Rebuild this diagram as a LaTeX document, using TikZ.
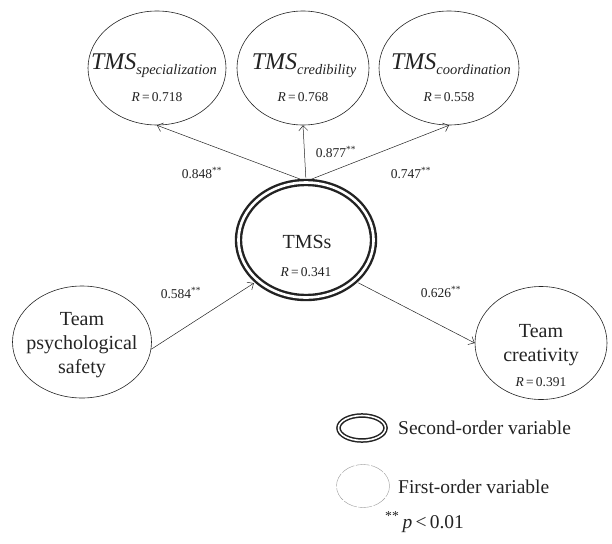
\documentclass[tikz,border=0pt]{standalone}
\usepackage{fontspec}
\setmainfont{Liberation Serif}
\usetikzlibrary{shapes.geometric, arrows.meta}
\definecolor{ink}{RGB}{35, 35, 35}
\newcommand{\coef}[1]{#1\textsuperscript{**}}
\newcommand{\rval}[1]{\textit{R}\,=\,#1}
\newcommand{\TMSsub}[1]{{\fontsize{24}{24}\selectfont\itshape TMS}\raisebox{-5pt}{\fontsize{14.5}{15}\selectfont\itshape #1}}

\begin{document}
\begin{tikzpicture}[x=1pt, y=-1pt,
  first/.style={draw=ink, ellipse, line width=0.6pt, inner sep=0pt},
  second/.style={draw=ink, ellipse, double=white, line width=2.4pt, double distance=2.6pt, inner sep=0pt},
  link/.style={draw=ink, line width=0.5pt, -{Straight Barb[length=5pt, width=9pt]}},
  lbl/.style={text=ink, font=\fontsize{20}{24}\selectfont, align=center, inner sep=0pt},
  num/.style={text=ink, font=\fontsize{13.5}{14}\selectfont, inner sep=0pt},
  legend/.style={text=ink, font=\fontsize{19.5}{20}\selectfont, inner sep=0pt}]

  \useasboundingbox (0, 0) rectangle (612, 543);

  % first-order factors of TMSs
  \node[first, minimum width=138, minimum height=114] (spec) at (157, 68) {};
  \node[first, minimum width=132, minimum height=114] (cred) at (303, 68) {};
  \node[first, minimum width=140, minimum height=114] (coord) at (449, 68) {};

  \node[lbl, anchor=base] (specT) at (154, 70) {\TMSsub{specialization}};
  \node[lbl, anchor=base] (credT) at (304, 70) {\TMSsub{credibility}};
  \node[lbl, anchor=base] (coordT) at (451, 70) {\TMSsub{coordination}};
  \node[num] (specR) at (157, 97) {\rval{0.718}};
  \node[num] (credR) at (303, 97) {\rval{0.768}};
  \node[num] (coordR) at (449, 97) {\rval{0.558}};

  % second-order factor
  \node[second, minimum width=135, minimum height=115] (tmss) at (306, 240) {};
  \node[lbl] (tmssT) at (307, 242) {TMSs};
  \node[num] (tmssR) at (306, 272) {\rval{0.341}};

  % antecedent and outcome
  \node[first, minimum width=139, minimum height=112] (psych) at (82, 342) {};
  \node[lbl] (psychT) at (82, 345) {Team\\psychological\\safety};
  \node[first, minimum width=132, minimum height=113] (creat) at (541, 343) {};
  \node[lbl] (creatT) at (541, 345) {Team\\creativity};
  \node[num] (creatR) at (541, 382) {\rval{0.391}};

  % paths
  \draw[link, shorten <=3.7pt] (tmss.north) -- (spec.south);
  \draw[link, shorten <=3.7pt] (tmss.north) -- (cred.south);
  \draw[link, shorten <=3.7pt] (tmss.north) -- (coord.south);
  \draw[link, shorten >=3.7pt] (psych.-6) -- (tmss.220);
  \draw[link, shorten <=3.7pt] (tmss.-40) -- (creat.west);

  \node[num] (c1) at (202, 173) {\coef{0.848}};
  \node[num] (c2) at (336, 152) {\coef{0.877}};
  \node[num] (c3) at (411, 173) {\coef{0.747}};
  \node[num] (c4) at (181, 293) {\coef{0.584}};
  \node[num] (c5) at (441, 292) {\coef{0.626}};

  % legend
  \node[second, line width=1.5pt, double distance=1.6pt, minimum width=47, minimum height=25] (key2) at (362, 428) {};
  \node[legend, anchor=west] (key2T) at (398, 428) {Second-order variable};
  \node[first, draw=gray!80, line width=0.4pt, dash pattern=on 14pt off 1.5pt, minimum width=53, minimum height=43] (key1) at (363, 486) {};
  \node[legend, anchor=west] (key1T) at (398, 487) {First-order variable};
  \node[legend, anchor=west] (keyP) at (385, 522) {\textsuperscript{**}\,\textit{p}\,<\,0.01};

\end{tikzpicture}
\end{document}
